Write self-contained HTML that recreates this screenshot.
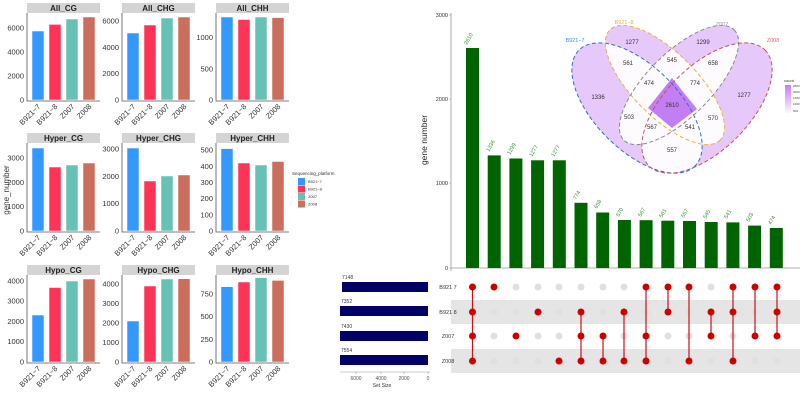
<!DOCTYPE html>
<html><head><meta charset="utf-8"><style>
body{margin:0;background:#fff}
svg{display:block;font-family:"Liberation Sans",sans-serif}
</style></head><body>
<svg width="800" height="400" viewBox="0 0 800 400" xmlns="http://www.w3.org/2000/svg">
<defs>
<clipPath id="c1"><ellipse cx="637" cy="108" rx="82" ry="42" transform="rotate(45 637 108)"/></clipPath>
<clipPath id="c2"><ellipse cx="665" cy="85" rx="78" ry="32" transform="rotate(45 665 85)"/></clipPath>
<clipPath id="c3"><ellipse cx="679" cy="85" rx="78" ry="32" transform="rotate(-45 679 85)"/></clipPath>
<linearGradient id="lg" x1="0" y1="0" x2="0" y2="1"><stop offset="0" stop-color="#c77cff"/><stop offset="1" stop-color="#fbf6ff"/></linearGradient>
</defs>

<!-- LEFT FACETS -->
<g font-size="7.5" fill="#333">
<text transform="translate(9,190) rotate(-90)" text-anchor="middle" font-size="8">gene_number</text>

<g fill="#d4d4d4">
<rect x="27" y="3" width="73" height="10"/><rect x="122" y="3" width="73" height="10"/><rect x="216" y="3" width="73" height="10"/>
<rect x="27" y="133" width="73" height="10"/><rect x="122" y="133" width="73" height="10"/><rect x="216" y="133" width="73" height="10"/>
<rect x="27" y="265" width="73" height="10"/><rect x="122" y="265" width="73" height="10"/><rect x="216" y="265" width="73" height="10"/>
</g>
<g font-weight="bold" font-size="8" text-anchor="middle" fill="#222">
<text x="63.5" y="11">All_CG</text><text x="158.5" y="11">All_CHG</text><text x="252.5" y="11">All_CHH</text>
<text x="63.5" y="141">Hyper_CG</text><text x="158.5" y="141">Hyper_CHG</text><text x="252.5" y="141">Hyper_CHH</text>
<text x="63.5" y="273">Hypo_CG</text><text x="158.5" y="273">Hypo_CHG</text><text x="252.5" y="273">Hypo_CHH</text>
</g>
<g stroke="#555" stroke-width="0.8" fill="none">
<path d="M27 13V101H100M122 13V101H195M216 13V101H289"/>
<path d="M27 143V232H100M122 143V232H195M216 143V232H289"/>
<path d="M27 275V363H100M122 275V363H195M216 275V363H289"/>
</g>
<g stroke="#fff" stroke-width="0.5">
<rect x="32" y="31" width="12" height="69" fill="#3399FF"/><rect x="49" y="24.4" width="12" height="75.6" fill="#FF3355"/><rect x="66" y="19" width="12" height="81" fill="#66C2B5"/><rect x="83" y="17" width="12" height="83" fill="#CC6E5C"/>
<rect x="127" y="33" width="12" height="67" fill="#3399FF"/><rect x="144" y="25" width="12" height="75" fill="#FF3355"/><rect x="161" y="18" width="12" height="82" fill="#66C2B5"/><rect x="178" y="17" width="12" height="83" fill="#CC6E5C"/>
<rect x="221" y="17" width="12" height="83" fill="#3399FF"/><rect x="238" y="19.5" width="12" height="80.5" fill="#FF3355"/><rect x="255" y="17" width="12" height="83" fill="#66C2B5"/><rect x="272" y="17.6" width="12" height="82.4" fill="#CC6E5C"/>

<rect x="32" y="148" width="12" height="83" fill="#3399FF"/><rect x="49" y="167" width="12" height="64" fill="#FF3355"/><rect x="66" y="165" width="12" height="66" fill="#66C2B5"/><rect x="83" y="163" width="12" height="68" fill="#CC6E5C"/>
<rect x="127" y="148" width="12" height="83" fill="#3399FF"/><rect x="144" y="181" width="12" height="50" fill="#FF3355"/><rect x="161" y="176" width="12" height="55" fill="#66C2B5"/><rect x="178" y="175" width="12" height="56" fill="#CC6E5C"/>
<rect x="221" y="148.6" width="12" height="82.4" fill="#3399FF"/><rect x="238" y="163" width="12" height="68" fill="#FF3355"/><rect x="255" y="165" width="12" height="66" fill="#66C2B5"/><rect x="272" y="161.5" width="12" height="69.5" fill="#CC6E5C"/>

<rect x="32" y="315" width="12" height="47" fill="#3399FF"/><rect x="49" y="287.5" width="12" height="74.5" fill="#FF3355"/><rect x="66" y="281" width="12" height="81" fill="#66C2B5"/><rect x="83" y="279" width="12" height="83" fill="#CC6E5C"/>
<rect x="127" y="321" width="12" height="41" fill="#3399FF"/><rect x="144" y="286" width="12" height="76" fill="#FF3355"/><rect x="161" y="279" width="12" height="83" fill="#66C2B5"/><rect x="178" y="278.7" width="12" height="83.3" fill="#CC6E5C"/>
<rect x="221" y="286.7" width="12" height="75.3" fill="#3399FF"/><rect x="238" y="282" width="12" height="80" fill="#FF3355"/><rect x="255" y="277.6" width="12" height="84.4" fill="#66C2B5"/><rect x="272" y="280.4" width="12" height="81.6" fill="#CC6E5C"/>
</g>
<g text-anchor="end">
<text x="24" y="102.5">0</text><text x="24" y="78.5">2000</text><text x="24" y="54.5">4000</text><text x="24" y="30.5">6000</text>
<text x="119" y="102.5">0</text><text x="119" y="76">2000</text><text x="119" y="49.8">4000</text><text x="119" y="23.5">6000</text>
<text x="213" y="102.5">0</text><text x="213" y="71.3">500</text><text x="213" y="40">1000</text>
<text x="24" y="233.5">0</text><text x="24" y="209">1000</text><text x="24" y="185">2000</text><text x="24" y="160.5">3000</text>
<text x="119" y="233.5">0</text><text x="119" y="206">1000</text><text x="119" y="179">2000</text><text x="119" y="151.5">3000</text>
<text x="213" y="233.5">0</text><text x="213" y="217.3">100</text><text x="213" y="201.2">200</text><text x="213" y="185">300</text><text x="213" y="169">400</text><text x="213" y="152.7">500</text>
<text x="24" y="364.5">0</text><text x="24" y="344">1000</text><text x="24" y="324">2000</text><text x="24" y="303.7">3000</text><text x="24" y="283.5">4000</text>
<text x="119" y="364.5">0</text><text x="119" y="345">1000</text><text x="119" y="325.5">2000</text><text x="119" y="306">3000</text><text x="119" y="286.5">4000</text>
<text x="213" y="364.5">0</text><text x="213" y="341.8">250</text><text x="213" y="319">500</text><text x="213" y="296.5">750</text>
</g>
<g text-anchor="end">
<text transform="translate(41,107) rotate(-45)">B921−7</text><text transform="translate(58,107) rotate(-45)">B921−8</text><text transform="translate(75,107) rotate(-45)">Z007</text><text transform="translate(92,107) rotate(-45)">Z008</text>
<text transform="translate(136,107) rotate(-45)">B921−7</text><text transform="translate(153,107) rotate(-45)">B921−8</text><text transform="translate(170,107) rotate(-45)">Z007</text><text transform="translate(187,107) rotate(-45)">Z008</text>
<text transform="translate(230,107) rotate(-45)">B921−7</text><text transform="translate(247,107) rotate(-45)">B921−8</text><text transform="translate(264,107) rotate(-45)">Z007</text><text transform="translate(281,107) rotate(-45)">Z008</text>
<text transform="translate(41,238) rotate(-45)">B921−7</text><text transform="translate(58,238) rotate(-45)">B921−8</text><text transform="translate(75,238) rotate(-45)">Z007</text><text transform="translate(92,238) rotate(-45)">Z008</text>
<text transform="translate(136,238) rotate(-45)">B921−7</text><text transform="translate(153,238) rotate(-45)">B921−8</text><text transform="translate(170,238) rotate(-45)">Z007</text><text transform="translate(187,238) rotate(-45)">Z008</text>
<text transform="translate(230,238) rotate(-45)">B921−7</text><text transform="translate(247,238) rotate(-45)">B921−8</text><text transform="translate(264,238) rotate(-45)">Z007</text><text transform="translate(281,238) rotate(-45)">Z008</text>
<text transform="translate(41,369) rotate(-45)">B921−7</text><text transform="translate(58,369) rotate(-45)">B921−8</text><text transform="translate(75,369) rotate(-45)">Z007</text><text transform="translate(92,369) rotate(-45)">Z008</text>
<text transform="translate(136,369) rotate(-45)">B921−7</text><text transform="translate(153,369) rotate(-45)">B921−8</text><text transform="translate(170,369) rotate(-45)">Z007</text><text transform="translate(187,369) rotate(-45)">Z008</text>
<text transform="translate(230,369) rotate(-45)">B921−7</text><text transform="translate(247,369) rotate(-45)">B921−8</text><text transform="translate(264,369) rotate(-45)">Z007</text><text transform="translate(281,369) rotate(-45)">Z008</text>
</g>
<text x="292" y="175" font-size="4.5">Sequencing_platform</text>
<rect x="298" y="178" width="7" height="7" fill="#3399FF"/><rect x="298" y="185.5" width="7" height="7" fill="#FF3355"/><rect x="298" y="193" width="7" height="7" fill="#66C2B5"/><rect x="298" y="200.5" width="7" height="7" fill="#CC6E5C"/>
<g font-size="4"><text x="308" y="183">B921−7</text><text x="308" y="190.5">B921−8</text><text x="308" y="198">Z007</text><text x="308" y="205.5">Z008</text></g>
</g>

<!-- UPSET TOP -->
<g font-size="5.5" fill="#333">
<text transform="translate(427,140) rotate(-90)" text-anchor="middle" font-size="8.5" fill="#222">gene number</text>
<path d="M451 13V271M451 268H800" stroke="#999" stroke-width="0.8" fill="none"/>
<path d="M449 15H451M449 99H451M449 183H451M449 268H451" stroke="#999" stroke-width="0.6"/>
<g text-anchor="end"><text x="448" y="17">3000</text><text x="448" y="101">2000</text><text x="448" y="185">1000</text><text x="448" y="270">0</text></g>
<g fill="#006400">
<rect x="466" y="48" width="13" height="220"/><rect x="487.7" y="155.4" width="13" height="112.6"/><rect x="509.4" y="158.5" width="13" height="109.5"/><rect x="531.1" y="160.3" width="13" height="107.7"/><rect x="552.8" y="160.3" width="13" height="107.7"/>
<rect x="574.5" y="202.8" width="13" height="65.2"/><rect x="596.2" y="212.5" width="13" height="55.5"/><rect x="617.9" y="220" width="13" height="48"/><rect x="639.6" y="220.2" width="13" height="47.8"/><rect x="661.3" y="220.7" width="13" height="47.3"/>
<rect x="683" y="221" width="13" height="47"/><rect x="704.7" y="222" width="13" height="46"/><rect x="726.4" y="222.4" width="13" height="45.6"/><rect x="748.1" y="225.6" width="13" height="42.4"/><rect x="769.8" y="228" width="13" height="40"/>
</g>
<g fill="#3a8f3a">
<text transform="translate(467,45) rotate(-60)">2610</text><text transform="translate(489,152) rotate(-60)">1336</text><text transform="translate(510,155) rotate(-60)">1299</text><text transform="translate(532,157) rotate(-60)">1277</text><text transform="translate(554,157) rotate(-60)">1277</text>
<text transform="translate(576,200) rotate(-60)">774</text><text transform="translate(597,209) rotate(-60)">658</text><text transform="translate(619,217) rotate(-60)">570</text><text transform="translate(641,217) rotate(-60)">567</text><text transform="translate(662,218) rotate(-60)">561</text>
<text transform="translate(684,218) rotate(-60)">557</text><text transform="translate(706,219) rotate(-60)">545</text><text transform="translate(727,219) rotate(-60)">541</text><text transform="translate(749,222) rotate(-60)">503</text><text transform="translate(771,225) rotate(-60)">474</text>
</g>
</g>

<!-- VENN -->
<g>
<g fill="#e6c8fb">
<ellipse cx="637" cy="108" rx="82" ry="42" transform="rotate(45 637 108)"/>
<ellipse cx="665" cy="85" rx="78" ry="32" transform="rotate(45 665 85)"/>
<ellipse cx="679" cy="85" rx="78" ry="32" transform="rotate(-45 679 85)"/>
<ellipse cx="707" cy="108" rx="82" ry="42" transform="rotate(-45 707 108)"/>
</g>
<g fill="#fefbff">
<g clip-path="url(#c1)"><rect x="550" y="0" width="250" height="200"/></g>
</g>
<g clip-path="url(#c2)" fill="#fefbff"><ellipse cx="679" cy="85" rx="78" ry="32" transform="rotate(-45 679 85)"/><ellipse cx="707" cy="108" rx="82" ry="42" transform="rotate(-45 707 108)"/></g>
<g clip-path="url(#c3)" fill="#fefbff"><ellipse cx="707" cy="108" rx="82" ry="42" transform="rotate(-45 707 108)"/></g>
<!-- restore blue-only region (not overlapped) -->
<g clip-path="url(#c1)"><g fill="#e6c8fb">
<path fill-rule="evenodd" d="M540 0H800V200H540Z"/>
</g></g>
<g clip-path="url(#c1)" fill="#fefbff"><ellipse cx="665" cy="85" rx="78" ry="32" transform="rotate(45 665 85)"/><ellipse cx="679" cy="85" rx="78" ry="32" transform="rotate(-45 679 85)"/><ellipse cx="707" cy="108" rx="82" ry="42" transform="rotate(-45 707 108)"/></g>
<polygon points="672,78 697,109 672,128 648,108" fill="#c27ef2"/>
<g fill="none" stroke-width="1" stroke-dasharray="4,2.5">
<ellipse cx="637" cy="108" rx="82" ry="42" transform="rotate(45 637 108)" stroke="#2f6fc0"/>
<ellipse cx="665" cy="85" rx="78" ry="32" transform="rotate(45 665 85)" stroke="#e8b040"/>
<ellipse cx="679" cy="85" rx="78" ry="32" transform="rotate(-45 679 85)" stroke="#8a8a8a"/>
<ellipse cx="707" cy="108" rx="82" ry="42" transform="rotate(-45 707 108)" stroke="#c85050"/>
</g>
<g font-size="6" text-anchor="middle" fill="#333">
<text x="632" y="44">1277</text><text x="703" y="44">1299</text><text x="628" y="65">561</text><text x="672" y="62">545</text><text x="713" y="65">658</text>
<text x="649" y="85">474</text><text x="695" y="85">774</text><text x="598" y="99">1336</text><text x="672" y="107">2610</text><text x="744" y="97">1277</text>
<text x="629" y="119">503</text><text x="713" y="120">570</text><text x="652" y="129">567</text><text x="690" y="129">541</text><text x="672" y="152">557</text>
</g>
<g font-size="5.5" text-anchor="middle">
<text x="575" y="42" fill="#3a8fd0">B921−7</text><text x="624" y="24" fill="#e8b040">B921−8</text><text x="722" y="26" fill="#999">Z007</text><text x="773" y="42" fill="#d86a6a">Z008</text>
</g>
<text x="784" y="82" font-size="4" fill="#333">count</text>
<rect x="785" y="85" width="6" height="28" fill="url(#lg)"/>
<g font-size="3" fill="#444"><text x="793" y="87">2500</text><text x="793" y="93">2000</text><text x="793" y="99">1500</text><text x="793" y="105">1000</text><text x="793" y="112">500</text></g>
</g>

<!-- UPSET MATRIX -->
<rect x="451" y="300" width="349" height="24" fill="#e5e5e5"/>
<rect x="451" y="349" width="349" height="24" fill="#e5e5e5"/>
<g font-size="5.5" fill="#333" text-anchor="middle">
<text x="448" y="289">B921 7</text><text x="448" y="314">B921 8</text><text x="448" y="338">Z007</text><text x="448" y="363">Z008</text>
</g>
<g fill="#000066">
<rect x="342" y="282" width="86" height="10"/><rect x="340" y="306" width="88" height="10"/><rect x="340" y="331" width="88" height="10"/><rect x="340" y="355" width="88" height="10"/>
</g>
<g font-size="5" fill="#333">
<text x="342" y="279">7148</text><text x="341" y="303">7352</text><text x="341" y="328">7430</text><text x="341" y="352">7554</text>
</g>
<path d="M340 372H430M356 372V374M381 372V374M404 372V374M428 372V374" stroke="#999" stroke-width="0.6" fill="none"/>
<g font-size="5" fill="#555" text-anchor="middle"><text x="356" y="380">6000</text><text x="381" y="380">4000</text><text x="404" y="380">2000</text><text x="428" y="380">0</text></g>
<text x="382" y="387" font-size="5" fill="#333" text-anchor="middle">Set Size</text>

<g fill="#e0e0e0">
<circle cx="516" cy="287" r="3.5"/><circle cx="538" cy="287" r="3.5"/><circle cx="559" cy="287" r="3.5"/><circle cx="581" cy="287" r="3.5"/><circle cx="603" cy="287" r="3.5"/><circle cx="624" cy="287" r="3.5"/><circle cx="711" cy="287" r="3.5"/>
<circle cx="494" cy="312" r="3.5"/><circle cx="516" cy="312" r="3.5"/><circle cx="559" cy="312" r="3.5"/><circle cx="603" cy="312" r="3.5"/><circle cx="646" cy="312" r="3.5"/><circle cx="689" cy="312" r="3.5"/><circle cx="755" cy="312" r="3.5"/>
<circle cx="494" cy="336" r="3.5"/><circle cx="538" cy="336" r="3.5"/><circle cx="559" cy="336" r="3.5"/><circle cx="624" cy="336" r="3.5"/><circle cx="668" cy="336" r="3.5"/><circle cx="689" cy="336" r="3.5"/><circle cx="733" cy="336" r="3.5"/>
<circle cx="494" cy="361" r="3.5"/><circle cx="516" cy="361" r="3.5"/><circle cx="538" cy="361" r="3.5"/><circle cx="668" cy="361" r="3.5"/><circle cx="711" cy="361" r="3.5"/><circle cx="755" cy="361" r="3.5"/><circle cx="777" cy="361" r="3.5"/>
</g>
<g stroke="#cc1111" stroke-width="1.2" fill="none">
<path d="M472.5 287V361M581 312V361M603 336V361M624 312V361M646 287V361M668 287V312M689 287V361M711 312V336M733 287V361M755 287V336M777 287V336"/>
</g>
<g fill="#cc0000">
<circle cx="472.5" cy="287" r="3.5"/><circle cx="472.5" cy="312" r="3.5"/><circle cx="472.5" cy="336" r="3.5"/><circle cx="472.5" cy="361" r="3.5"/>
<circle cx="494" cy="287" r="3.5"/>
<circle cx="516" cy="336" r="3.5"/>
<circle cx="538" cy="312" r="3.5"/>
<circle cx="559" cy="361" r="3.5"/>
<circle cx="581" cy="312" r="3.5"/><circle cx="581" cy="336" r="3.5"/><circle cx="581" cy="361" r="3.5"/>
<circle cx="603" cy="336" r="3.5"/><circle cx="603" cy="361" r="3.5"/>
<circle cx="624" cy="312" r="3.5"/><circle cx="624" cy="361" r="3.5"/>
<circle cx="646" cy="287" r="3.5"/><circle cx="646" cy="336" r="3.5"/><circle cx="646" cy="361" r="3.5"/>
<circle cx="668" cy="287" r="3.5"/><circle cx="668" cy="312" r="3.5"/>
<circle cx="689" cy="287" r="3.5"/><circle cx="689" cy="361" r="3.5"/>
<circle cx="711" cy="312" r="3.5"/><circle cx="711" cy="336" r="3.5"/>
<circle cx="733" cy="287" r="3.5"/><circle cx="733" cy="312" r="3.5"/><circle cx="733" cy="361" r="3.5"/>
<circle cx="755" cy="287" r="3.5"/><circle cx="755" cy="336" r="3.5"/>
<circle cx="777" cy="287" r="3.5"/><circle cx="777" cy="312" r="3.5"/><circle cx="777" cy="336" r="3.5"/>
</g>
</svg>
</body></html>
